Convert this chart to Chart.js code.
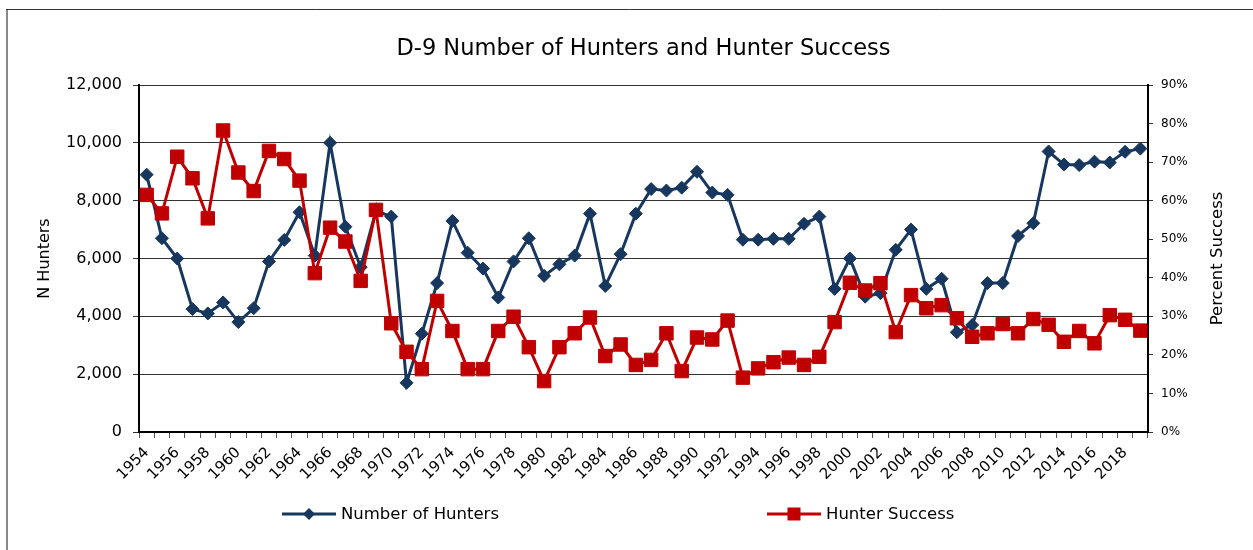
<!DOCTYPE html>
<html><head><meta charset="utf-8">
<script src="https://cdn.jsdelivr.net/npm/chart.js@4/dist/chart.umd.min.js"></script>
<style>html,body{margin:0;padding:0;background:#fff;}canvas{display:block;}</style>
</head><body>
<canvas id="c" width="1253" height="550"></canvas>
<script>
const years = [1954,1955,1956,1957,1958,1959,1960,1961,1962,1963,1964,1965,1966,1967,1968,1969,1970,1971,1972,1973,1974,1975,1976,1977,1978,1979,1980,1981,1982,1983,1984,1985,1986,1987,1988,1989,1990,1991,1992,1993,1994,1995,1996,1997,1998,1999,2000,2001,2002,2003,2004,2005,2006,2007,2008,2009,2010,2011,2012,2013,2014,2015,2016,2017,2018,2019];
const hunters = [8900,6700,6000,4250,4100,4480,3800,4280,5900,6640,7600,6100,10000,7100,5700,7650,7450,1700,3400,5150,7300,6200,5650,4650,5900,6700,5400,5800,6100,7550,5050,6150,7550,8400,8350,8450,9000,8280,8200,6650,6650,6680,6680,7200,7450,4950,6000,4680,4800,6300,7000,4950,5300,3450,3700,5150,5150,6780,7220,9700,9250,9230,9350,9320,9690,9800];
const success = [61.5,56.7,71.4,65.8,55.4,78.2,67.3,62.5,72.9,70.8,65.2,41.2,53.0,49.4,39.2,57.6,28.2,20.8,16.3,34.0,26.2,16.3,16.3,26.2,29.9,22.0,13.2,22.0,25.6,29.7,19.7,22.7,17.4,18.7,25.6,15.8,24.5,24.0,28.9,14.1,16.5,18.1,19.3,17.4,19.5,28.5,38.7,36.7,38.6,25.9,35.5,32.1,32.9,29.5,24.7,25.6,28.0,25.6,29.3,27.8,23.4,26.2,23.0,30.3,29.1,26.3];
const hunterTicks = [0,2000,4000,6000,8000,10000,12000];
const successTicks = [0,10,20,30,40,50,60,70,80,90];
const titleText = 'D-9 Number of Hunters and Hunter Success';
const leftTitle = 'N Hunters';
const rightTitle = 'Percent Success';
const seriesNames = ['Number of Hunters','Hunter Success'];

const FONT = "'DejaVu Sans',sans-serif";
const BLUE = '#17375E', RED = '#C00000';
Chart.defaults.font.family = FONT;
Chart.defaults.color = '#000';

const decor = {
  id: 'decor',
  beforeDraw(chart) {
    const ctx = chart.ctx;
    ctx.save();
    ctx.fillStyle = '#fff';
    ctx.fillRect(0, 0, chart.width, chart.height);
    ctx.restore();
  },
  afterDraw(chart) {
    const ctx = chart.ctx;
    const a = chart.chartArea;
    ctx.save();
    // frame
    ctx.strokeStyle = '#888'; ctx.lineWidth = 2;
    ctx.beginPath(); ctx.moveTo(7, 9); ctx.lineTo(7, chart.height); ctx.stroke();
    ctx.strokeStyle = '#333'; ctx.lineWidth = 1;
    ctx.beginPath(); ctx.moveTo(6, 9.5); ctx.lineTo(chart.width, 9.5); ctx.stroke();
    // title, centred over the plot area
    ctx.fillStyle = '#000';
    ctx.font = "22.5px " + FONT;
    ctx.textAlign = 'center'; ctx.textBaseline = 'middle';
    ctx.fillText(titleText, (a.left + a.right) / 2, 49);
    // right axis title
    ctx.font = "16.5px " + FONT;
    ctx.translate(1218, (a.top + a.bottom) / 2);
    ctx.rotate(-Math.PI / 2);
    ctx.fillText(rightTitle, 0, 0);
    ctx.restore();
    // legend
    ctx.save();
    const ly = 514;
    const items = [
      {x0: 282, x1: 336, color: BLUE, shape: 'diamond', text: seriesNames[0]},
      {x0: 767, x1: 821, color: RED, shape: 'square', text: seriesNames[1]}
    ];
    items.forEach(it => {
      ctx.strokeStyle = it.color; ctx.lineWidth = 3;
      ctx.beginPath(); ctx.moveTo(it.x0, ly); ctx.lineTo(it.x1, ly); ctx.stroke();
      const cx = (it.x0 + it.x1) / 2;
      ctx.fillStyle = it.color;
      ctx.beginPath();
      if (it.shape === 'diamond') {
        ctx.moveTo(cx, ly - 6); ctx.lineTo(cx + 6, ly); ctx.lineTo(cx, ly + 6); ctx.lineTo(cx - 6, ly); ctx.closePath();
      } else {
        ctx.rect(cx - 6.5, ly - 6.5, 13, 13);
      }
      ctx.fill();
      ctx.fillStyle = '#000';
      ctx.font = "16.5px " + FONT;
      ctx.textAlign = 'left'; ctx.textBaseline = 'middle';
      ctx.fillText(it.text, it.x1 + 5, ly + 1);
    });
    ctx.restore();
  }
};

new Chart(document.getElementById('c'), {
  type: 'line',
  data: {
    labels: years,
    datasets: [
      {label: seriesNames[0], data: hunters, yAxisID: 'y', borderColor: BLUE, backgroundColor: BLUE,
       borderWidth: 3, pointStyle: 'rectRot', pointRadius: 6.5, pointBorderWidth: 1, tension: 0, order: 2},
      {label: seriesNames[1], data: success, yAxisID: 'y1', borderColor: RED, backgroundColor: RED,
       borderWidth: 3, pointStyle: 'rect', pointRadius: 9.5, pointBorderWidth: 1, tension: 0, order: 1}
    ]
  },
  options: {
    responsive: false, animation: false, devicePixelRatio: 1,
    layout: {padding: {top: 85, left: 0, right: 0, bottom: 0}},
    plugins: {
      legend: {display: false}, tooltip: {enabled: false}, title: {display: false}
    },
    scales: {
      x: {
        type: 'category', offset: true,
        grid: {display: true, drawOnChartArea: false, drawTicks: true, tickLength: 6, color: '#555', offset: true},
        border: {display: true, color: '#000', width: 2},
        ticks: {autoSkip: false, minRotation: 45, maxRotation: 45, padding: 6, color: '#000',
          font: {size: 15}, callback: (v, i) => (i % 2 === 0 ? String(years[i]) : '')},
        afterFit: s => { s.height = 118; }
      },
      y: {
        position: 'left', min: 0, max: 12000,
        afterBuildTicks: s => { s.ticks = hunterTicks.map(v => ({value: v})); },
        grid: {color: '#333', lineWidth: 1, tickLength: 6, drawTicks: true},
        border: {display: true, color: '#000', width: 2},
        ticks: {padding: 11, color: '#000', font: {size: 16}, callback: v => Number(v).toLocaleString('en-US')},
        title: {display: true, text: leftTitle, color: '#000', font: {size: 16}, padding: {top: 35, bottom: 0}},
        afterFit: s => { s.width = 139; }
      },
      y1: {
        position: 'right', min: 0, max: 90,
        afterBuildTicks: s => { s.ticks = successTicks.map(v => ({value: v})); },
        grid: {drawOnChartArea: false, drawTicks: true, tickLength: 5, color: '#333'},
        border: {display: true, color: '#000', width: 2},
        ticks: {padding: 8, color: '#000', font: {size: 12}, callback: v => v + '%'},
        afterFit: s => { s.width = 105; }
      }
    }
  },
  plugins: [decor]
});
</script>
</body></html>
